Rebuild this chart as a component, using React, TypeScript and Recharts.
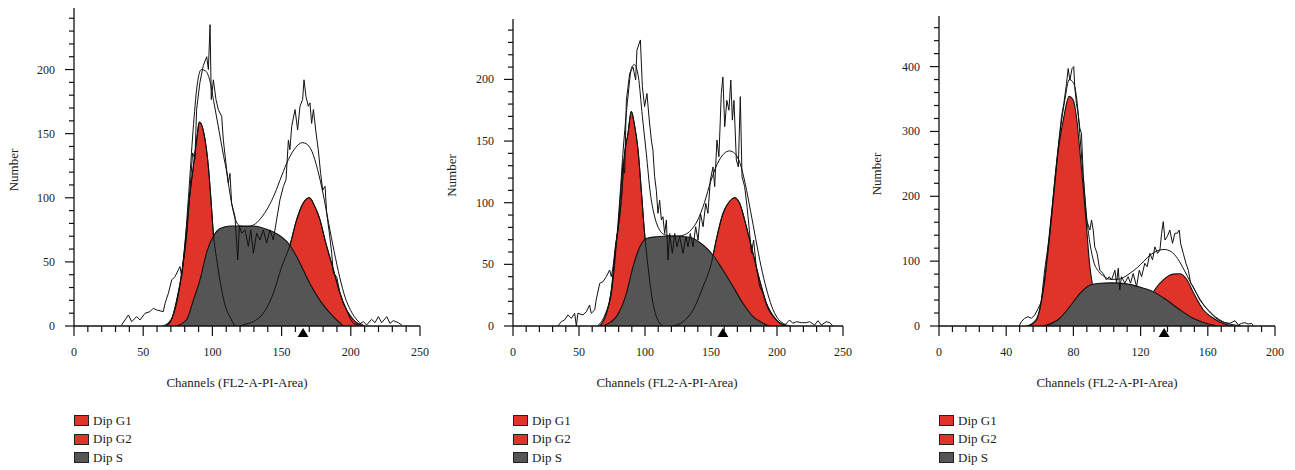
import React from 'react';
import { ComposedChart, Area, Line, XAxis, YAxis, ReferenceDot, Label } from 'recharts';

const FONT = '"Liberation Serif", "Times New Roman", serif';
const RED = '#e0332a';
const GRAY = '#555555';
const INK = '#111111';
const TEXT = '#222222';

// ---------- ticks & labels ----------
const X_TICKS_250 = [0, 10, 20, 30, 40, 50, 60, 70, 80, 90, 100, 110, 120, 130, 140, 150, 160, 170, 180, 190, 200, 210, 220, 230, 240, 250];
const X_LABELS_250 = [0, 50, 100, 150, 200, 250];
const X_TICKS_200 = [0, 8, 16, 24, 32, 40, 48, 56, 64, 72, 80, 88, 96, 104, 112, 120, 128, 136, 144, 152, 160, 168, 176, 184, 192, 200];
const X_LABELS_200 = [0, 40, 80, 120, 160, 200];
const Y_TICKS_250 = [0, 10, 20, 30, 40, 50, 60, 70, 80, 90, 100, 110, 120, 130, 140, 150, 160, 170, 180, 190, 200, 210, 220, 230, 240];
const Y_LABELS_250 = [0, 50, 100, 150, 200];
const Y_TICKS_480 = [0, 20, 40, 60, 80, 100, 120, 140, 160, 180, 200, 220, 240, 260, 280, 300, 320, 340, 360, 380, 400, 420, 440, 460];
const Y_LABELS_480 = [0, 100, 200, 300, 400];

const LEGEND_NAMES = ['Dip G1', 'Dip G2', 'Dip S'];
const X_TITLE = 'Channels (FL2-A-PI-Area)';
const Y_TITLE = 'Number';

// ---------- panel 1 ----------
const P1_RAW_X = [34.4, 39.3, 41.7, 45.3, 47.7, 51.3, 54.9, 57.3, 59.7, 64.5, 65.8, 68.2, 70.6, 73, 75.4, 76.6, 77.8, 79, 81.4, 83.8, 85.7, 87.4, 88.6, 91, 93.4, 95.9, 97.1, 98.3, 99.2, 100.7, 102.6, 104.3, 106.7, 107.9, 110.3, 111.5, 112.7, 113.9, 116.3, 118.3, 119.5, 121.2, 123.6, 126, 127.7, 129.6, 132, 134.4, 136.8, 139.2, 141.6, 144, 146.4, 148.8, 151.3, 153.2, 154.9, 156, 157.3, 159.7, 161.6, 163.3, 165.2, 166.2, 167.6, 169.3, 170.5, 171.7, 173, 174.9, 176.5, 178.2, 179.7, 181.4, 182.6, 184.5, 186.2, 187.4, 189.8, 192.2, 194.6, 197, 199.4, 201.8, 205.4, 209, 211.5, 215, 217.5, 219.9, 222.3, 226, 228.3, 230.7, 234.3, 236.8];
const P1_RAW_Y = [0.8, 8.6, 3.4, 7.3, 4.7, 9.9, 11.2, 13.8, 12.5, 11.2, 17.7, 25.5, 35.9, 38.5, 43.8, 46.4, 38.5, 51.6, 77.6, 106, 135, 130, 169, 190, 203, 210, 200, 235, 176.6, 192, 176.6, 168.7, 163.5, 145, 122, 111.5, 119, 95.8, 85.4, 51.6, 77.6, 72.4, 75, 62, 75, 56.8, 72.4, 67, 75, 64.6, 75, 67, 82.8, 98.4, 108.9, 114, 145, 137.5, 155.7, 168.8, 153, 171.4, 176.6, 192, 179, 171.4, 174, 158, 168.8, 150.5, 137.5, 119, 106, 108.9, 88, 72.4, 56.8, 41, 38.5, 25.5, 17.7, 12.5, 6, 2, 0.8, 3.4, 0.8, 5.2, 2.6, 7.3, 2.6, 7.3, 2, 4.2, 2.6, 0.8];
const P1_FIT_X = [64, 70, 75, 80, 83, 86, 89, 92, 95, 98, 101, 103, 106, 108, 110, 112, 114, 117, 120, 125, 130, 135, 140, 145, 150, 155, 160, 165, 168, 172, 176, 180, 184, 188, 192, 196, 200, 205, 210];
const P1_FIT_Y = [0, 5, 22, 62, 105, 152, 188, 200, 199, 192, 175, 163, 145, 133, 122, 108, 95, 82, 78, 77.5, 79, 84, 92, 103, 117, 130, 139, 143, 142, 136, 122, 103, 80, 58, 38, 22, 12, 4, 0];
const P1_G1_X = [66, 70, 74.2, 78.5, 81.4, 83.3, 86.2, 88.6, 90.6, 93.9, 97.1, 99, 100.7, 103.1, 106.7, 109.5, 112.7, 116.3];
const P1_G1_Y = [0, 4, 20, 46, 72, 98, 124, 145, 159, 150, 124, 98, 72, 52, 28, 15, 7, 0];
const P1_S_X = [74, 81.4, 86.2, 91, 96.3, 100.7, 105.5, 112.7, 120, 129.6, 139.2, 146.4, 156, 163.3, 170.5, 177.7, 185, 194.6];
const P1_S_Y = [0, 5, 20, 36, 59, 70, 76, 78, 78, 78, 75.5, 72, 63, 49, 33, 20, 10, 0];
const P1_G2_X = [120, 122.4, 129.6, 136.8, 144, 150, 156, 160.9, 165.7, 170, 174.1, 177.7, 181.4, 187.4, 192.2, 197, 201.8, 209];
const P1_G2_Y = [0, 1, 3.4, 10, 25.5, 46, 63, 83, 96, 100, 93, 83, 67, 44, 25.5, 12.5, 5, 0];

// ---------- panel 2 ----------
const P2_RAW_X = [34, 36.6, 39, 41.7, 44.2, 46.7, 48, 49.2, 53, 55.6, 58, 59.3, 61.9, 63, 65.7, 68.2, 70.7, 73.2, 74.5, 75.8, 77.8, 79.5, 82, 83.3, 84.6, 85.9, 88.4, 90.9, 92.9, 93.9, 96.5, 98, 99.7, 101.5, 103, 104.8, 106, 107.3, 108.6, 109.8, 111.1, 112.4, 113.6, 114.9, 116.2, 117.4, 118.7, 120.7, 122.5, 124.2, 126.3, 128.8, 131, 132.6, 134.3, 136.4, 138.4, 140.2, 142, 144, 146, 147.7, 149.5, 151.5, 152.8, 154.5, 156, 157.8, 159, 160.4, 162, 163.6, 165, 166.2, 167.4, 169.2, 170.7, 172.2, 173.5, 175.5, 177.3, 179.3, 180.6, 182.3, 184.3, 186.9, 189.4, 192, 194.4, 198.2, 202, 205.8, 209.6, 212, 214.6, 218.4, 222.2, 224.7, 228.5, 231, 233.6, 237.4, 240, 242.4];
const P2_RAW_Y = [0, 3.5, 4.9, 9, 6.2, 10.3, 0, 10.3, 9, 11.6, 17, 10.3, 13, 21, 34.6, 36, 40, 45.4, 40, 48, 67, 77.8, 113, 132, 124, 183, 205, 210, 199.5, 223.8, 232, 194, 178, 188.6, 169.7, 150.8, 142.7, 121, 110, 91.4, 102, 86, 88.6, 75, 86, 53.5, 75, 59, 75, 64.3, 72.4, 59, 72.4, 64.3, 75, 64.3, 80.5, 69.7, 91.4, 80.5, 99.5, 91.4, 118.4, 129, 113, 150.8, 137.3, 188.6, 202, 161.6, 183, 175, 199.5, 167, 183, 134.6, 129, 186, 121, 113, 96.8, 75, 59, 69.7, 48, 32, 26.5, 17, 11.6, 6.2, 2.2, 0.8, 4.9, 2.2, 3.5, 2.7, 2.7, 3.5, 0.8, 4.3, 0.8, 3.5, 2.7, 0];
const P2_FIT_X = [64, 70, 75, 80, 84, 87, 90, 92, 95, 98, 101, 104, 107, 110, 115, 120, 125, 130, 135, 140, 145, 150, 155, 160, 164, 168, 172, 176, 180, 184, 188, 192, 196, 200, 205, 210];
const P2_FIT_Y = [0, 10, 30, 90, 150, 185, 210, 212, 202, 170, 140, 108, 90, 80, 74, 73, 73, 74, 78, 86, 100, 118, 132, 140, 142, 140, 132, 115, 93, 70, 48, 30, 16, 7, 2, 0];
const P2_G1_X = [65.7, 70.7, 74.5, 77.8, 82, 84.1, 87.1, 89.6, 92.2, 94.7, 97.2, 99.7, 102.3, 104.8, 108.6, 113.6];
const P2_G1_Y = [0, 10, 29, 64, 102, 135, 156, 174, 162, 143, 110, 75, 48, 26.5, 7.6, 0];
const P2_S_X = [68, 78.3, 85.9, 90.9, 96, 101, 108.6, 118.7, 133.8, 144, 151.5, 159, 166.7, 174.2, 181.8, 189.4, 194.4];
const P2_S_Y = [0, 7.6, 26.5, 48, 64, 71, 72.4, 73, 72, 65.7, 57.6, 45.4, 32, 18.4, 7.6, 2.2, 0];
const P2_G2_X = [121.2, 128.8, 136.4, 144, 150.3, 154, 159, 164, 168, 171.7, 176.8, 181.8, 186.9, 192, 199.5, 207];
const P2_G2_Y = [0, 3.5, 13, 32, 51, 70, 91, 101, 104, 99.5, 80.5, 59, 37, 18.4, 5, 0];

// ---------- panel 3 ----------
const P3_RAW_X = [47.7, 49, 51, 53, 55, 57, 59, 61, 63, 65, 67, 69, 71, 72.9, 74.3, 75.9, 76.9, 77.9, 79.2, 80.2, 80.8, 81.8, 82.8, 83.8, 84.8, 85.8, 87.8, 89.8, 90.8, 91.8, 92.7, 94.1, 95.7, 97.7, 99.7, 101.3, 102.7, 104.7, 105.7, 106.7, 107.6, 108.6, 110.6, 112.6, 114, 115.6, 117.6, 119.2, 120.6, 122.5, 123.9, 125.5, 127.1, 128.5, 130.1, 131.5, 132.5, 133.5, 134.5, 135.9, 137.4, 139, 140.4, 141.8, 143, 143.8, 145.4, 147, 148.4, 149.8, 151.3, 153.3, 155.3, 158.3, 161.3, 164.3, 167.2, 170.2, 173.2, 176.2, 178.2, 180.1, 182.1, 184.1, 186.1, 187.1];
const P3_RAW_Y = [0, 6.7, 11.8, 14.4, 11.8, 17, 27, 37.5, 70, 125, 175, 225, 275, 323, 343, 374, 397, 379, 397, 400, 369, 343, 328, 305, 297, 235, 163.5, 148, 163.5, 148, 122, 112, 86, 81, 71, 76, 71, 86, 66, 89, 55.5, 76, 66, 76, 66, 81, 60.7, 86, 76, 96.7, 91.5, 112, 102, 122, 112, 117, 143, 161, 132.6, 138, 148, 127.5, 143, 143, 148, 127.5, 112, 96.7, 86, 66, 60.7, 50.4, 40, 29.8, 22, 14.4, 9.3, 5.1, 4.1, 8.2, 1.5, 4.1, 5.1, 3, 4.1, 0];
const P3_FIT_X = [52, 56, 60, 63, 66, 69, 72, 75, 77.5, 80, 82, 84, 86, 88, 90, 92, 95, 98, 102, 106, 110, 114, 118, 122, 126, 130, 134, 138, 142, 146, 150, 154, 158, 162, 166, 170, 175, 180];
const P3_FIT_Y = [0, 5, 25, 88, 145, 228, 298, 350, 380, 375, 350, 290, 225, 165, 125, 100, 84, 77, 72, 72, 75, 82, 90, 100, 110, 116, 118, 115, 104, 86, 66, 47, 31, 19, 10, 5, 2, 0];
const P3_G1_X = [53, 58, 61.6, 65, 68, 71, 74, 77.5, 79.8, 81.8, 83.8, 85.8, 87.8, 89.8, 91.2, 94, 97, 100, 103];
const P3_G1_Y = [0, 9, 50, 117, 194, 271, 318, 354, 349, 323, 271, 215, 153, 91.5, 66, 30, 10, 2, 0];
const P3_S_X = [62, 71.9, 77.9, 83.8, 89.8, 95.7, 103, 111.6, 119.6, 127.5, 135.5, 143.4, 151.3, 159.3, 167];
const P3_S_Y = [0, 12, 30, 50, 63, 66, 66.5, 65, 60, 53, 40, 25, 12, 4, 0];
const P3_G2_X = [111.6, 116, 120, 124, 127, 128.5, 133.5, 139.4, 143.4, 147.4, 151.3, 157.3, 163.3, 169.2, 175.2];
const P3_G2_Y = [0, 5, 15, 33, 50, 56, 71, 80, 80.5, 72, 52, 25, 12, 4, 0];

type Pt = { ch: number; v: number };
const pts = (xs: number[], ys: number[]): Pt[] => xs.map((ch, i) => ({ ch, v: ys[i] }));

const H = 470;
const AXIS_Y = 326;

type PanelCfg = {
  left: number;
  width: number;
  plotLeft: number;
  plotRight: number;
  plotTop: number;
  xMax: number;
  yMax: number;
  xTicks: number[];
  xLabels: number[];
  yTicks: number[];
  yLabels: number[];
  yTitleX: number;
  xTitleDx: number;
  marker: number;
  outlines: boolean;
  raw: Pt[];
  fit: Pt[];
  g1: Pt[];
  g2: Pt[];
  s: Pt[];
};

const XTick = (props: any) => {
  const { x, y, payload, labels } = props;
  const major = labels.includes(payload.value);
  return (
    <g>
      <line x1={x} x2={x} y1={y} y2={y + (major ? 10 : 6)} stroke={INK} strokeWidth={1.2} />
      {major && (
        <text x={x} y={y + 30} textAnchor="middle" fontFamily={FONT} fontSize={12} fill={TEXT}>
          {payload.value}
        </text>
      )}
    </g>
  );
};

const YTick = (props: any) => {
  const { x, y, payload, labels } = props;
  const major = labels.includes(payload.value);
  return (
    <g>
      <line x1={x - (major ? 9 : 5)} x2={x} y1={y} y2={y} stroke={INK} strokeWidth={1.2} />
      {major && (
        <text x={x - 19} y={y + 4} textAnchor="end" fontFamily={FONT} fontSize={12} fill={TEXT}>
          {payload.value}
        </text>
      )}
    </g>
  );
};

const LegendBlock = ({ x }: { x: number }) => {
  const colors = [RED, RED, GRAY];
  return (
    <>
      {LEGEND_NAMES.map((name, i) => (
        <div key={name} style={{ position: 'absolute', left: x, top: 415 + i * 18.5, height: 12 }}>
          <div
            style={{
              position: 'absolute',
              left: 0,
              top: 0,
              width: 15,
              height: 11,
              boxSizing: 'border-box',
              border: '1.5px solid #222',
              background: colors[i],
            }}
          />
          <span
            style={{
              position: 'absolute',
              left: 19,
              top: -2.5,
              fontFamily: FONT,
              fontSize: 13,
              lineHeight: '15px',
              color: TEXT,
              whiteSpace: 'nowrap',
            }}
          >
            {name}
          </span>
        </div>
      ))}
    </>
  );
};

const Panel = ({ c }: { c: PanelCfg }) => {
  const yAxisW = c.plotLeft - c.left;
  const xAxisH = 60;
  const margin = { top: c.plotTop, right: c.left + c.width - c.plotRight, bottom: H - AXIS_Y - xAxisH, left: 0 };
  const xTitleX = (c.plotLeft + c.plotRight) / 2 - c.left + c.xTitleDx;
  const yTitleY = (c.plotTop + AXIS_Y) / 2 + 3;
  return (
    <div style={{ position: 'absolute', left: c.left, top: 0, width: c.width, height: H }}>
      <ComposedChart width={c.width} height={H} margin={margin}>
        <XAxis
          type="number"
          dataKey="ch"
          domain={[0, c.xMax]}
          allowDataOverflow
          ticks={c.xTicks}
          interval={0}
          tickSize={0}
          tickMargin={0}
          tickLine={false}
          height={xAxisH}
          axisLine={{ stroke: INK, strokeWidth: 1.3 }}
          tick={(p: any) => <XTick {...p} labels={c.xLabels} />}
        >
          <Label
            content={() => (
              <text x={xTitleX} y={387} textAnchor="middle" fontFamily={FONT} fontSize={13} fill={TEXT}>
                {X_TITLE}
              </text>
            )}
          />
        </XAxis>
        <YAxis
          type="number"
          domain={[0, c.yMax]}
          allowDataOverflow
          ticks={c.yTicks}
          interval={0}
          tickSize={0}
          tickMargin={0}
          tickLine={false}
          width={yAxisW}
          axisLine={{ stroke: INK, strokeWidth: 1.3 }}
          tick={(p: any) => <YTick {...p} labels={c.yLabels} />}
        >
          <Label
            content={() => (
              <text
                x={c.yTitleX}
                y={yTitleY}
                textAnchor="middle"
                dominantBaseline="central"
                transform={`rotate(-90 ${c.yTitleX} ${yTitleY})`}
                fontFamily={FONT}
                fontSize={13}
                fill={TEXT}
              >
                {Y_TITLE}
              </text>
            )}
          />
        </YAxis>
        <Area data={c.g1} dataKey="v" type="monotone" fill={RED} fillOpacity={1} stroke={INK} strokeWidth={1.1} isAnimationActive={false} />
        <Area data={c.g2} dataKey="v" type="monotone" fill={RED} fillOpacity={1} stroke={INK} strokeWidth={1.1} isAnimationActive={false} />
        <Area data={c.s} dataKey="v" type="monotone" fill={GRAY} fillOpacity={1} stroke={INK} strokeWidth={1.1} isAnimationActive={false} />
        {c.outlines && (
          <Line data={c.g1} dataKey="v" type="monotone" stroke={INK} strokeWidth={1} dot={false} isAnimationActive={false} />
        )}
        {c.outlines && (
          <Line data={c.g2} dataKey="v" type="monotone" stroke={INK} strokeWidth={1} dot={false} isAnimationActive={false} />
        )}
        <Line data={c.fit} dataKey="v" type="monotone" stroke={INK} strokeWidth={1} dot={false} isAnimationActive={false} />
        <Line data={c.raw} dataKey="v" type="linear" stroke={INK} strokeWidth={1} dot={false} isAnimationActive={false} />
        <ReferenceDot
          x={c.marker}
          y={0}
          r={0}
          ifOverflow="visible"
          shape={(p: any) => (
            <path d={`M${p.cx - 5.5},${p.cy + 11} L${p.cx},${p.cy + 2} L${p.cx + 5.5},${p.cy + 11} Z`} fill="#000" />
          )}
        />
      </ComposedChart>
      <LegendBlock x={c.plotLeft - c.left} />
    </div>
  );
};

const PANELS: PanelCfg[] = [
  {
    left: 0, width: 430, plotLeft: 74, plotRight: 420, plotTop: 8, xMax: 250, yMax: 248,
    xTicks: X_TICKS_250, xLabels: X_LABELS_250, yTicks: Y_TICKS_250, yLabels: Y_LABELS_250,
    yTitleX: 13, xTitleDx: -10, marker: 165.5, outlines: true,
    raw: pts(P1_RAW_X, P1_RAW_Y), fit: pts(P1_FIT_X, P1_FIT_Y), g1: pts(P1_G1_X, P1_G1_Y), g2: pts(P1_G2_X, P1_G2_Y), s: pts(P1_S_X, P1_S_Y),
  },
  {
    left: 430, width: 430, plotLeft: 513, plotRight: 843, plotTop: 19, xMax: 250, yMax: 249,
    xTicks: X_TICKS_250, xLabels: X_LABELS_250, yTicks: Y_TICKS_250, yLabels: Y_LABELS_250,
    yTitleX: 21, xTitleDx: -11, marker: 159, outlines: true,
    raw: pts(P2_RAW_X, P2_RAW_Y), fit: pts(P2_FIT_X, P2_FIT_Y), g1: pts(P2_G1_X, P2_G1_Y), g2: pts(P2_G2_X, P2_G2_Y), s: pts(P2_S_X, P2_S_Y),
  },
  {
    left: 860, width: 435, plotLeft: 939, plotRight: 1275, plotTop: 16, xMax: 200, yMax: 478,
    xTicks: X_TICKS_200, xLabels: X_LABELS_200, yTicks: Y_TICKS_480, yLabels: Y_LABELS_480,
    yTitleX: 16, xTitleDx: 0, marker: 134, outlines: false,
    raw: pts(P3_RAW_X, P3_RAW_Y), fit: pts(P3_FIT_X, P3_FIT_Y), g1: pts(P3_G1_X, P3_G1_Y), g2: pts(P3_G2_X, P3_G2_Y), s: pts(P3_S_X, P3_S_Y),
  },
];

export default function App() {
  return (
    <div style={{ position: 'absolute', left: 0, top: 0, width: 1295, height: 470, background: '#fff', overflow: 'hidden' }}>
      {PANELS.map((c, i) => (
        <Panel key={i} c={c} />
      ))}
    </div>
  );
}
